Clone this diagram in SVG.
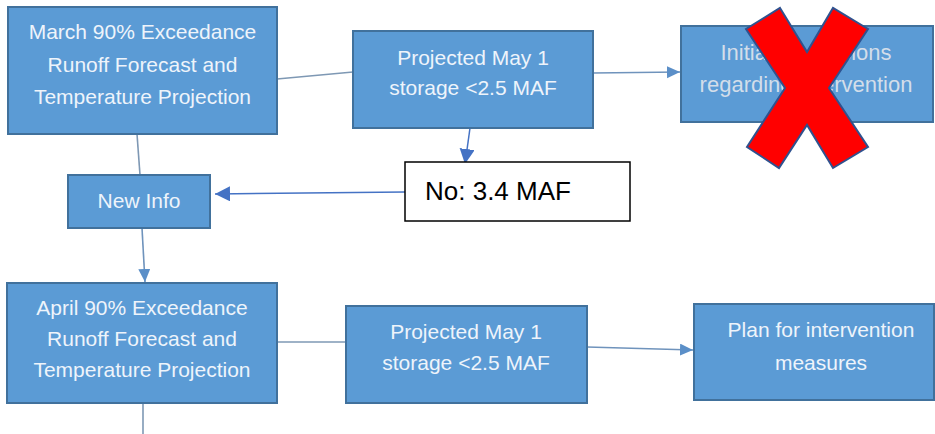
<svg xmlns="http://www.w3.org/2000/svg" width="935" height="434" viewBox="0 0 935 434">
  <style>
    .box { fill: #5B9BD5; stroke: #41719C; stroke-width: 2; }
    .lbl { font-family: "Liberation Sans", Arial, sans-serif; font-size: 21px; fill: #EEF4FB; text-anchor: middle; }
    .faded { fill: #D3DEEA; font-size: 22px; }
    .note { fill: #FFFFFF; stroke: #000000; stroke-width: 1.5; }
    .noteText { font-family: "Liberation Sans", Arial, sans-serif; font-size: 26px; fill: #000000; }
    .flow { fill: none; stroke: #7E98B4; stroke-width: 1.6; }
    .flowArrow { fill: none; stroke: #6F93BC; stroke-width: 1.6; }
    .link { fill: none; stroke: #4472C4; stroke-width: 1.5; }
  </style>
  <defs>
    <marker id="headBlue" markerUnits="userSpaceOnUse" markerWidth="16" markerHeight="16" refX="15" refY="7.5" orient="auto">
      <path d="M0,0 L15,7.5 L0,15 Z" fill="#4472C4"/>
    </marker>
    <marker id="headSoft" markerUnits="userSpaceOnUse" markerWidth="15" markerHeight="13" refX="13" refY="6" orient="auto">
      <path d="M0,0 L13,6 L0,12 Z" fill="#5B8FC8"/>
    </marker>
  </defs>

  <rect width="935" height="434" fill="#FFFFFF"/>

  <!-- connectors -->
  <g id="connectors">
    <path class="flow" d="M277,79 L353,72"/>
    <path class="flowArrow" d="M593,73 L680,72" marker-end="url(#headSoft)"/>
    <path class="flow" d="M137,134 L140,175"/>
    <path class="flowArrow" d="M142,228 L145,282" marker-end="url(#headSoft)"/>
    <path class="flow" d="M143,403 L143,434"/>
    <path class="flow" d="M277,342 L346,342"/>
    <path class="flowArrow" d="M587,347 L693,350" marker-end="url(#headSoft)"/>
    <path class="link" d="M470,128 L465,164" marker-end="url(#headBlue)"/>
    <path class="link" d="M405,192 L215,194" marker-end="url(#headBlue)"/>
  </g>

  <g id="march">
    <rect class="box" x="8" y="7" width="269" height="127"/>
    <text class="lbl" x="142.5" y="39">March 90% Exceedance</text>
    <text class="lbl" x="142.5" y="72">Runoff Forecast and</text>
    <text class="lbl" x="142.5" y="104">Temperature Projection</text>
  </g>

  <g id="storage-march">
    <rect class="box" x="353" y="31" width="240" height="97"/>
    <text class="lbl" x="473" y="65">Projected May 1</text>
    <text class="lbl" x="473" y="95">storage &lt;2.5 MAF</text>
  </g>

  <g id="initial-discussions">
    <rect class="box" x="681" y="26" width="252" height="96"/>
    <text class="lbl faded" x="806" y="60">Initial discussions</text>
    <text class="lbl faded" x="806" y="92">regarding intervention</text>
  </g>

  <!-- red cross over the discussions box -->
  <g id="cross">
    <polygon points="780,8 807,52 833,8 868,29 829,88 868,147 833,168 807,125 779,168 747,147 785,88 746,29" fill="#FF0000" stroke="#2F528F" stroke-width="2" stroke-linejoin="miter"/>
  </g>

  <g id="new-info">
    <rect class="box" x="68" y="175" width="142" height="53"/>
    <text class="lbl" x="139" y="208">New Info</text>
  </g>

  <g id="no-result">
    <rect class="note" x="405" y="162" width="225" height="59"/>
    <text class="noteText" x="425" y="200">No: 3.4 MAF</text>
  </g>

  <g id="april">
    <rect class="box" x="7" y="283" width="270" height="120"/>
    <text class="lbl" x="142" y="315">April 90% Exceedance</text>
    <text class="lbl" x="142" y="346">Runoff Forecast and</text>
    <text class="lbl" x="142" y="377">Temperature Projection</text>
  </g>

  <g id="storage-april">
    <rect class="box" x="346" y="306" width="241" height="97"/>
    <text class="lbl" x="466" y="339">Projected May 1</text>
    <text class="lbl" x="466" y="370">storage &lt;2.5 MAF</text>
  </g>

  <g id="plan">
    <rect class="box" x="694" y="304" width="240" height="96"/>
    <text class="lbl" x="821" y="337">Plan for intervention</text>
    <text class="lbl" x="821" y="370">measures</text>
  </g>
</svg>
